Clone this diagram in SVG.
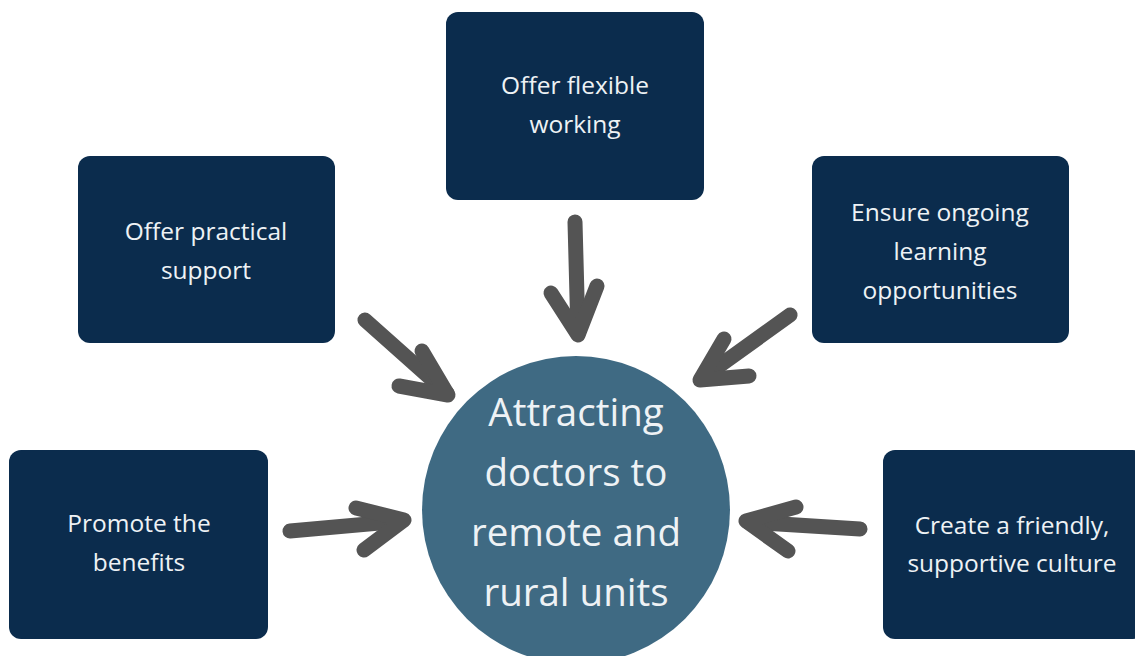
<svg xmlns="http://www.w3.org/2000/svg" width="1135" height="656" viewBox="0 0 1135 656">
<style>
.box{fill:#0b2c4d;}
.bt{font-family:"Open Sans","Liberation Sans",sans-serif;font-size:24.5px;fill:#eef2f5;text-anchor:middle;}
.ct{font-family:"Open Sans","Liberation Sans",sans-serif;font-size:38.5px;fill:#eef2f5;text-anchor:middle;}
.arr{fill:none;stroke:#545454;stroke-width:15;stroke-linecap:round;stroke-linejoin:round;}
</style>
<rect width="1135" height="656" fill="#ffffff"/>
<g id="connectors">
<path class="arr" d="M365,320 L447,393"/>
<path class="arr" d="M422,351 L448,395 L399,386"/>
<path class="arr" d="M575,222 L578,334"/>
<path class="arr" d="M551,293 L578,335 L597,286"/>
<path class="arr" d="M790,315 L701,379"/>
<path class="arr" d="M724,339 L700,380 L749,376"/>
<path class="arr" d="M290,531 L402,521"/>
<path class="arr" d="M356,508 L404,520 L364,550"/>
<path class="arr" d="M860,529 L748,522"/>
<path class="arr" d="M796,507 L746,521 L788,551"/>
</g>
<g id="center">
<circle cx="576" cy="510" r="154" fill="#3f6a83"/>
<text class="ct" x="576" y="426">Attracting</text>
<text class="ct" x="576" y="486">doctors to</text>
<text class="ct" x="576" y="546">remote and</text>
<text class="ct" x="576" y="606">rural units</text>
</g>
<g id="flexible">
<rect class="box" x="446" y="12" width="258" height="188" rx="12"/>
<text class="bt" x="575" y="94">Offer flexible</text>
<text class="bt" x="575" y="133">working</text>
</g>
<g id="practical">
<rect class="box" x="78" y="156" width="257" height="187" rx="12"/>
<text class="bt" x="206" y="240">Offer practical</text>
<text class="bt" x="206" y="279">support</text>
</g>
<g id="learning">
<rect class="box" x="812" y="156" width="257" height="187" rx="12"/>
<text class="bt" x="940" y="221">Ensure ongoing</text>
<text class="bt" x="940" y="260">learning</text>
<text class="bt" x="940" y="299">opportunities</text>
</g>
<g id="benefits">
<rect class="box" x="9" y="450" width="259" height="189" rx="12"/>
<text class="bt" x="139" y="532">Promote the</text>
<text class="bt" x="139" y="571">benefits</text>
</g>
<g id="culture">
<rect class="box" x="883" y="450" width="262" height="189" rx="12"/>
<text class="bt" x="1012" y="534">Create a friendly,</text>
<text class="bt" x="1012" y="572">supportive culture</text>
</g>
</svg>
